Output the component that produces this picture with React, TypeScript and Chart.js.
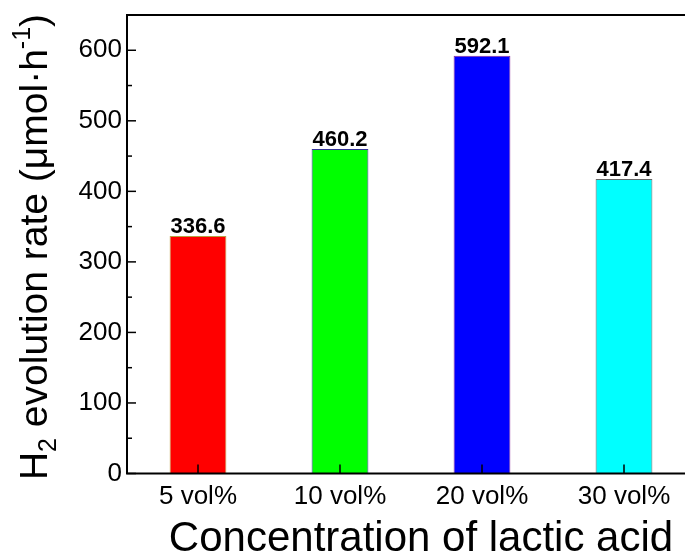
import React, { useEffect, useRef } from "react";
import { Chart, registerables } from "chart.js";

Chart.register(...registerables);

const categories = ["5 vol%", "10 vol%", "20 vol%", "30 vol%"];
const rates = [336.6, 460.2, 592.1, 417.4];
const barColors = ["#ff0000", "#00ff00", "#0000ff", "#00ffff"];
const barBorderColors = ["#b8a040", "#333399", "#8a2a9a", "#666666"];
const yMin = 0;
const yMax = 650;
const yStep = 50;
const yLabelStep = 100;
const xTitle = "Concentration of lactic acid";
const yTitleParts = [
  { text: "H", kind: "normal" },
  { text: "2", kind: "sub" },
  { text: " evolution rate (\u03bcmol\u00b7h", kind: "normal" },
  { text: "-1", kind: "sup" },
  { text: ")", kind: "normal" },
];

const FONT = '"Liberation Sans", Arial, Helvetica, sans-serif';

const framePlugin = {
  id: "frame",
  afterDatasetsDraw(chart: any) {
    const { ctx, chartArea } = chart;
    const { left, right, top, bottom } = chartArea;
    const ys = chart.scales.y;
    const xs = chart.scales.x;
    ctx.save();
    ctx.strokeStyle = "#000";
    ctx.lineWidth = 1.5;
    ys.ticks.forEach((t: any) => {
      const py = ys.getPixelForValue(t.value);
      const len = t.value % yLabelStep === 0 ? 9 : 5;
      ctx.beginPath();
      ctx.moveTo(left, py);
      ctx.lineTo(left + len, py);
      ctx.stroke();
    });
    xs.ticks.forEach((_t: any, i: number) => {
      const px = xs.getPixelForValue(i);
      ctx.beginPath();
      ctx.moveTo(px, bottom);
      ctx.lineTo(px, bottom - 9);
      ctx.stroke();
    });
    ctx.lineWidth = 2;
    ctx.beginPath();
    ctx.moveTo(right + 5, top);
    ctx.lineTo(left, top);
    ctx.lineTo(left, bottom);
    ctx.lineTo(right + 5, bottom);
    ctx.stroke();

    const meta = chart.getDatasetMeta(0);
    ctx.fillStyle = "#000";
    ctx.font = `bold 22px ${FONT}`;
    ctx.textAlign = "center";
    ctx.textBaseline = "alphabetic";
    meta.data.forEach((bar: any, i: number) => {
      ctx.fillText(rates[i].toFixed(1), bar.x, bar.y - 3);
    });

    ctx.font = `42px ${FONT}`;
    ctx.textAlign = "center";
    ctx.fillText(xTitle, 421, 551);

    const big = 39;
    const small = 25;
    const fontFor = (k: string) => `${k === "normal" ? big : small}px ${FONT}`;
    let total = 0;
    yTitleParts.forEach((p) => {
      ctx.font = fontFor(p.kind);
      total += ctx.measureText(p.text).width;
    });
    ctx.translate(47, 247);
    ctx.rotate(-Math.PI / 2);
    let x = -total / 2;
    ctx.textAlign = "left";
    yTitleParts.forEach((p) => {
      ctx.font = fontFor(p.kind);
      const dy = p.kind === "sub" ? 9 : p.kind === "sup" ? -17 : 0;
      ctx.fillText(p.text, x, dy);
      x += ctx.measureText(p.text).width;
    });
    ctx.restore();
  },
};

export default function App() {
  const ref = useRef<HTMLCanvasElement | null>(null);
  useEffect(() => {
    if (!ref.current) return;
    const chart = new Chart(ref.current, {
      type: "bar",
      data: {
        labels: categories,
        datasets: [
          {
            data: rates,
            backgroundColor: barColors,
            borderColor: barBorderColors,
            borderWidth: 1,
            barPercentage: 0.4,
            categoryPercentage: 1,
          },
        ],
      },
      options: {
        responsive: false,
        animation: false,
        events: [],
        layout: { autoPadding: false, padding: { left: 0, top: 15, right: 15, bottom: 0 } },
        plugins: { legend: { display: false }, tooltip: { enabled: false }, title: { display: false } },
        scales: {
          x: {
            type: "category",
            grid: { display: false, drawTicks: false },
            border: { display: false },
            ticks: { color: "#000", font: { family: FONT, size: 26 }, padding: 8, maxRotation: 0 },
            afterFit: (s: any) => {
              s.height = 558 - 473.5;
              s.paddingLeft = 0;
              s.paddingRight = 0;
              s.paddingTop = 0;
              s.paddingBottom = 0;
            },
          },
          y: {
            type: "linear",
            min: yMin,
            max: yMax,
            grid: { display: false, drawTicks: false },
            border: { display: false },
            ticks: {
              stepSize: yStep,
              color: "#000",
              font: { family: FONT, size: 26 },
              padding: 5,
              callback: (v: any) => (Number(v) % yLabelStep === 0 && Number(v) <= 600 ? String(v) : ""),
            },
            afterFit: (s: any) => {
              s.width = 127;
              s.paddingLeft = 0;
              s.paddingRight = 0;
              s.paddingTop = 0;
              s.paddingBottom = 0;
            },
          },
        },
      },
      plugins: [framePlugin],
    });
    return () => chart.destroy();
  }, []);
  return (
    <div
      style={{
        position: "fixed",
        left: 0,
        top: 0,
        width: 685,
        height: 558,
        overflow: "hidden",
        background: "#fff",
      }}
    >
      <canvas ref={ref} width={710} height={558} style={{ display: "block", width: 710, height: 558 }} />
    </div>
  );
}
